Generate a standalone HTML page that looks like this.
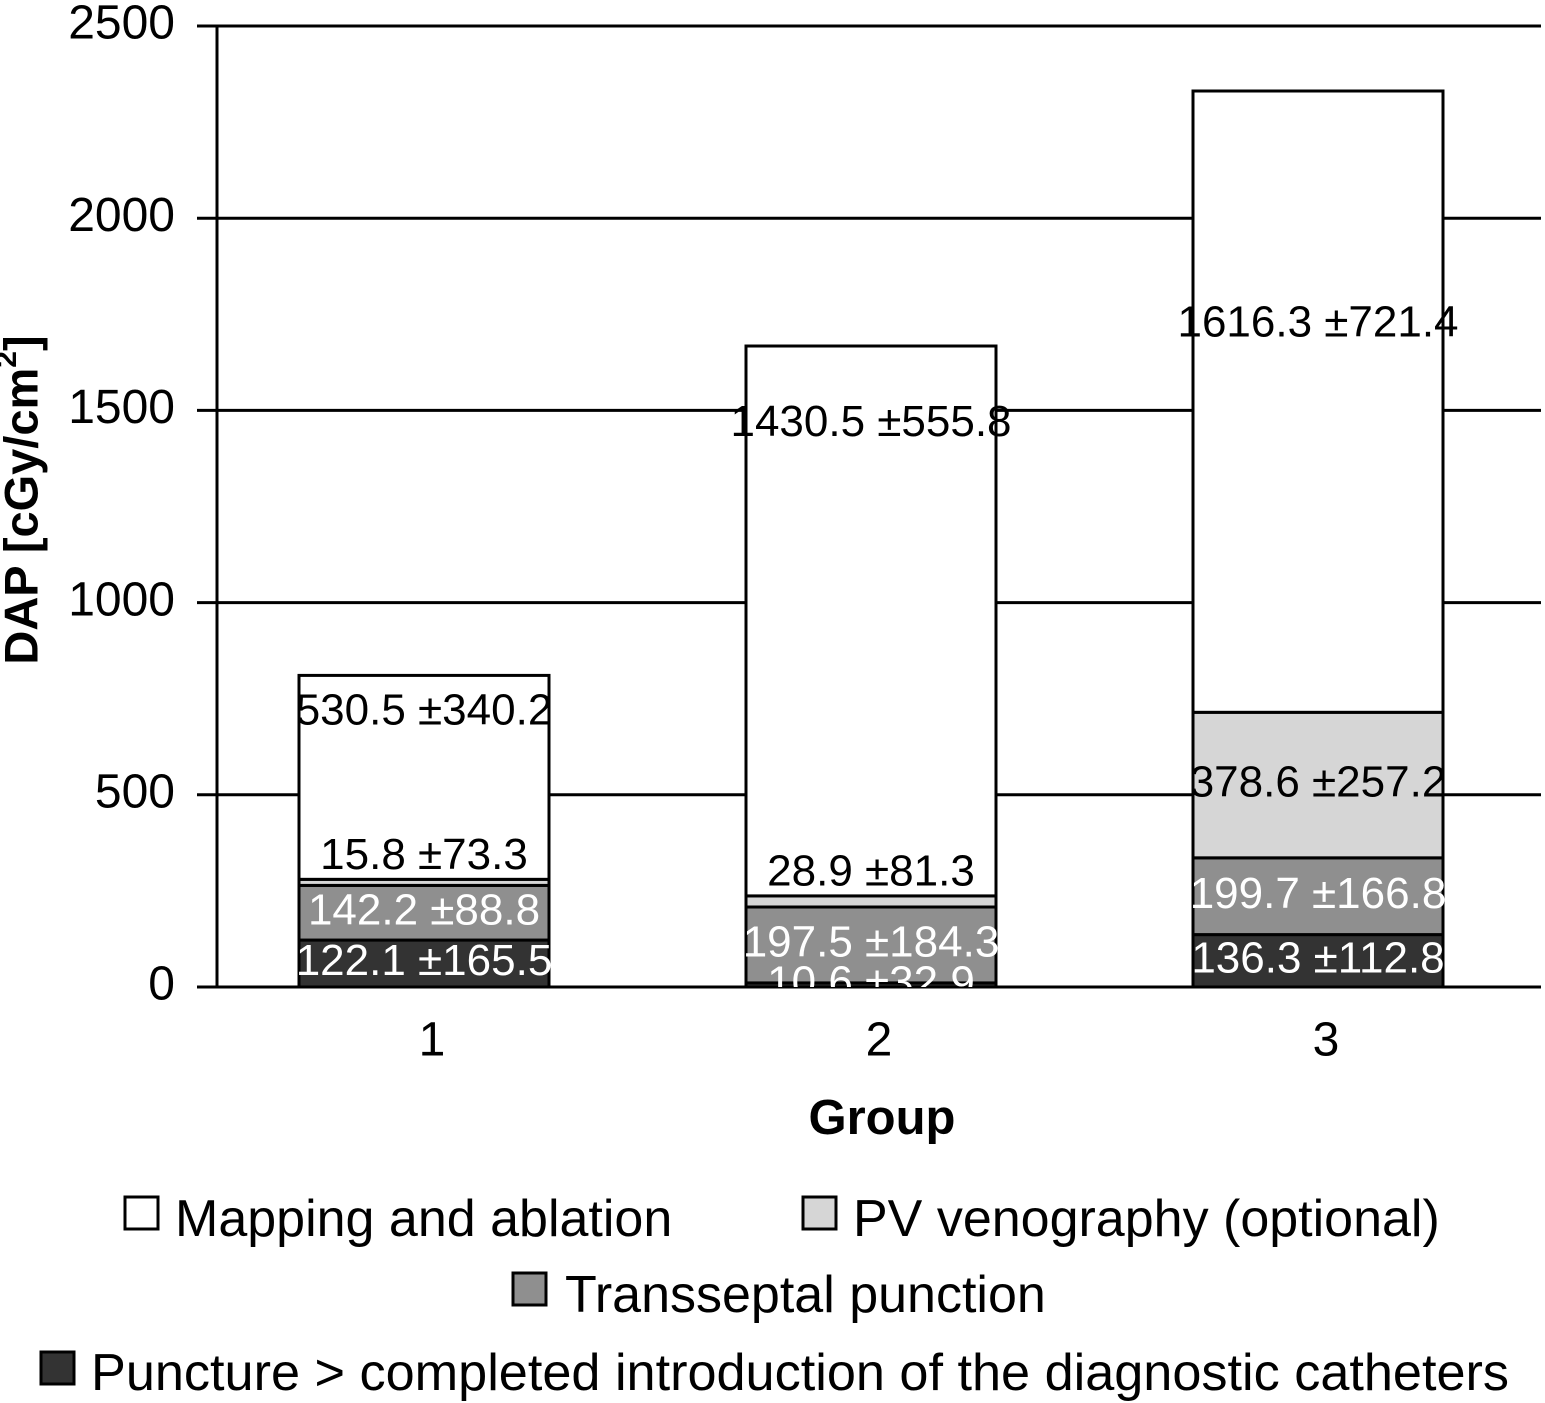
<!DOCTYPE html>
<html><head><meta charset="utf-8"><style>
html,body{margin:0;padding:0;background:#fff;}
svg{display:block;font-family:"Liberation Sans",sans-serif;}
</style></head><body>
<svg width="1545" height="1403" viewBox="0 0 1545 1403">
<defs><clipPath id="plotclip"><rect x="150" y="20" width="1393" height="967"/></clipPath></defs>
<g id="grid"></g>
<g id="bars"></g>
<g id="labels" clip-path="url(#plotclip)"></g>
<g id="axes"></g>
<text x="25" y="500" transform="rotate(-90 25 500)" text-anchor="middle" dominant-baseline="middle" font-size="47" font-weight="bold">DAP [cGy/cm<tspan baseline-shift="super" font-size="30">2</tspan>]</text>
<text x="882" y="1134" text-anchor="middle" font-size="49" font-weight="bold">Group</text>
<g>
<g><rect x="125" y="1197" width="33" height="32" fill="#fff" stroke="#000" stroke-width="3"/><text x="175" y="1236" font-size="52">Mapping and ablation</text></g>
<g><rect x="803" y="1197" width="33" height="32" fill="#d6d6d6" stroke="#000" stroke-width="3"/><text x="853" y="1236" font-size="52">PV venography (optional)</text></g>
<g><rect x="513" y="1273" width="33" height="32" fill="#8f8f8f" stroke="#000" stroke-width="3"/><text x="565" y="1312" font-size="52">Transseptal punction</text></g>
<g><rect x="41" y="1352" width="33" height="32" fill="#333" stroke="#000" stroke-width="3"/><text x="91" y="1390" font-size="52" textLength="1418" lengthAdjust="spacingAndGlyphs">Puncture &gt; completed introduction of the diagnostic catheters</text></g>
</g>
</svg>
<script>
const categories = ["1","2","3"];
const puncture = [122.1, 10.6, 136.3];
const puncturePrint = ["122.1 ±165.5","10.6 ±32.9","136.3 ±112.8"];
const transseptal = [142.2, 197.5, 199.7];
const transseptalPrint = ["142.2 ±88.8","197.5 ±184.3","199.7 ±166.8"];
const venography = [15.8, 28.9, 378.6];
const venographyPrint = ["15.8 ±73.3","28.9 ±81.3","378.6 ±257.2"];
const mapping = [530.5, 1430.5, 1616.3];
const mappingPrint = ["530.5 ±340.2","1430.5 ±555.8","1616.3 ±721.4"];
const mappingLabelAt = [713, 1464, 1723];
const yTicks = [0,500,1000,1500,2000,2500];

const NS="http://www.w3.org/2000/svg";
const y0=987, yTop=26, vMax=2500;
const Y=v=>y0-(v/vMax)*(y0-yTop);
const plotL=217, plotR=1541;
const bandStart=200.5, bandW=447;
const X=i=>bandStart+bandW*(i+0.5);
const barW=250;
function mk(t,a,p){const e=document.createElementNS(NS,t);for(const k in a)e.setAttribute(k,a[k]);p.appendChild(e);return e;}
const grid=document.getElementById('grid'),bars=document.getElementById('bars'),labels=document.getElementById('labels'),axes=document.getElementById('axes');
yTicks.forEach(v=>{
  const l=mk('line',{x1:197,x2:plotR,y1:Y(v),y2:Y(v),stroke:'#000','stroke-width':3},grid);
  
  
  const t=mk('text',{x:175,y:Y(v),'text-anchor':'end','dominant-baseline':'middle','font-size':48},axes);
  t.textContent=v;
  
  
});
const al=mk('line',{x1:plotL,x2:plotL,y1:yTop,y2:y0,stroke:'#000','stroke-width':3},axes);


const series=[
 {v:puncture,p:puncturePrint,fill:'#333',tc:'#fff',name:'puncture'},
 {v:transseptal,p:transseptalPrint,fill:'#8f8f8f',tc:'#fff',name:'transseptal'},
 {v:venography,p:venographyPrint,fill:'#d6d6d6',tc:'#000',name:'venography'},
 {v:mapping,p:mappingPrint,fill:'#fff',tc:'#000',name:'mapping'}];
categories.forEach((c,i)=>{
  let base=0;
  const cx=X(i);
  series.forEach((s,si)=>{
    const v=s.v[i];
    const r=mk('rect',{x:cx-barW/2,y:Y(base+v),width:barW,height:Y(base)-Y(base+v),fill:s.fill,stroke:'#000','stroke-width':3},bars);
    
    
    let ly, col=s.tc;
    const hpx=Y(base)-Y(base+v);
    if(si===3){ly=Y(mappingLabelAt[i]);}
    else if(hpx<25 && si===2){ly=Y(base+v)-22;col='#000';}
    else ly=(Y(base)+Y(base+v))/2;
    const t=mk('text',{x:cx,y:ly,'text-anchor':'middle','dominant-baseline':'middle','font-size':44,fill:col},labels);
    t.textContent=s.p[i];
    
    
    base+=v;
  });
  const xl=mk('text',{x:cx+8,y:1043,'text-anchor':'middle','dominant-baseline':'middle','font-size':48},axes);
  xl.textContent=c;
  
  
});
</script>
</body></html>
